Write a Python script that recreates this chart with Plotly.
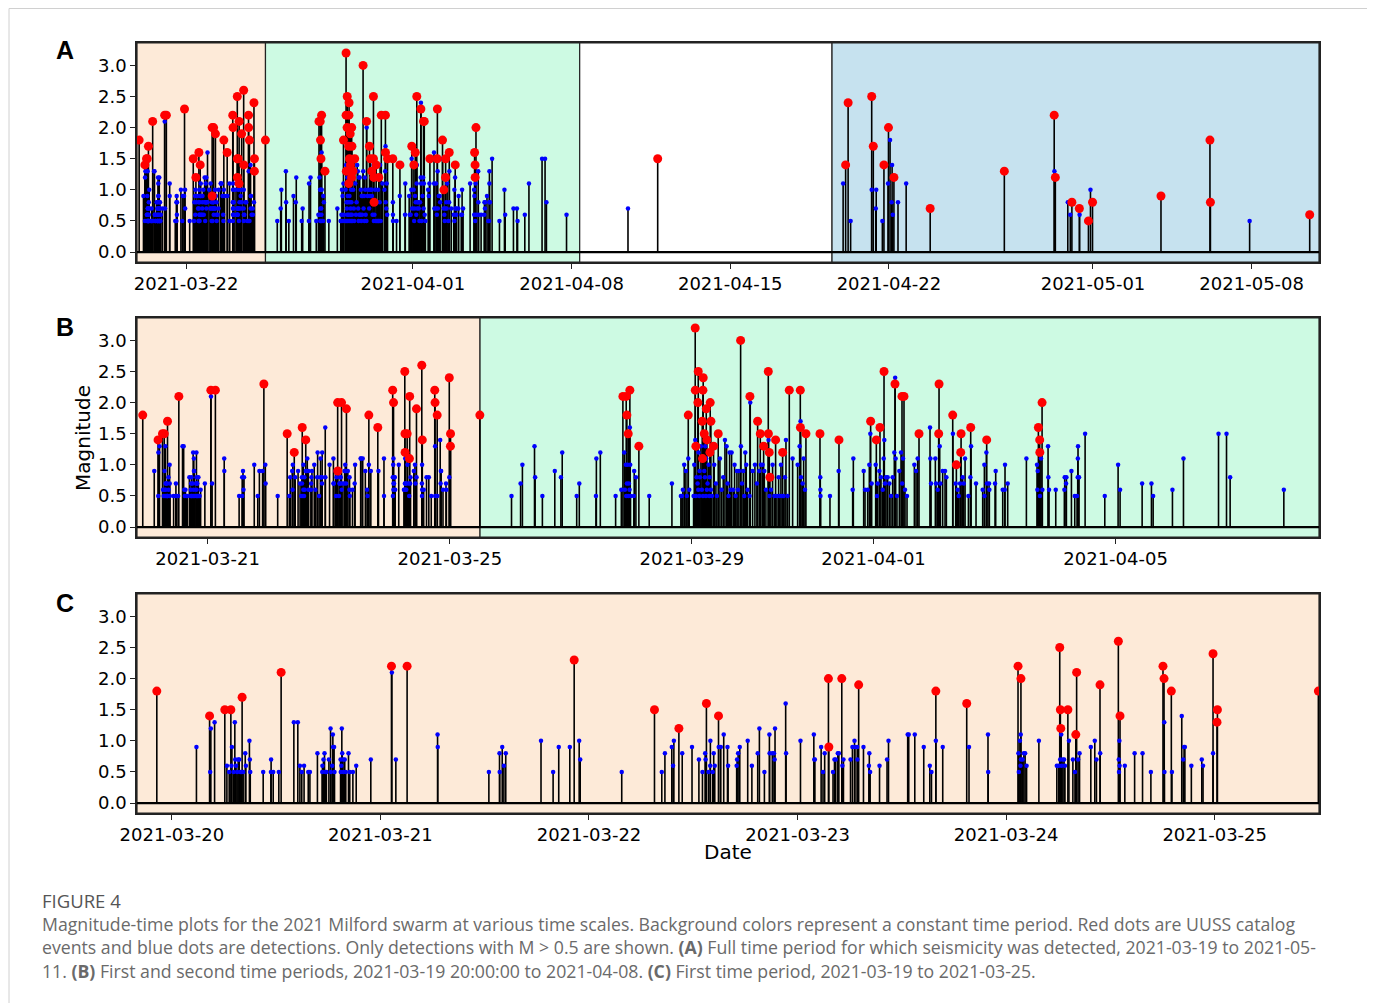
import plotly.graph_objects as go
import pandas as pd

# ---------------- DATA ----------------
# times are days after 2021-03-19 00:00
BASE = "2021-03-19"
period_bounds = [0.833, 6.5, 20.36, 31.49, 52.97]
period_colors = ["#FDEAD8", "#CDFAE3", "#FFFFFF", "#C6E2EF"]

# Period 1 - UUSS catalog events (red)
p1_cat_day = [0.928, 1.181, 1.254, 1.283, 1.337, 1.524, 2.053, 2.128, 2.929, 3.314, 3.431, 3.563,
              3.621, 4.148, 4.150, 4.212, 4.293, 4.663, 4.811, 5.057, 5.071, 5.257, 5.260, 5.262,
              5.296, 5.334, 5.338, 5.450, 5.538, 5.546, 5.752, 5.757, 5.792, 5.992, 6.011, 6.013, 6.497]
p1_cat_mag = [1.8, 1.4, 1.5, 1.5, 1.7, 2.1, 2.2, 2.2, 2.3, 1.5, 1.2, 1.6,
              1.4, 2.0, 0.9, 2.0, 1.9, 1.8, 1.6, 2.2, 2.0, 2.5, 1.5, 1.2,
              1.5, 1.1, 2.1, 1.9, 2.6, 1.4, 2.2, 2.0, 1.8, 2.4, 1.3, 1.5, 1.8]

# Period 1 - detections (blue)
p1_det_day = [1.118, 1.184, 1.187, 1.205, 1.264, 1.275, 1.286, 1.288, 1.296, 1.302, 1.304, 1.308,
              1.313, 1.318, 1.323, 1.328, 1.334, 1.342, 1.352, 1.355, 1.372, 1.374, 1.376, 1.438,
              1.475, 1.476, 1.486, 1.513, 1.585, 1.604, 1.614, 1.623, 1.634, 1.654, 1.662, 1.698,
              1.721, 1.722, 1.727, 1.732, 1.737, 1.741, 1.753, 1.761, 1.762, 1.769, 1.772, 1.773,
              1.778, 1.780, 1.809, 1.810, 1.813, 1.815, 1.817, 1.821, 1.823, 1.829, 1.834, 1.847,
              1.853, 1.868, 1.884, 1.954, 2.055, 2.074, 2.274, 2.275, 2.520, 2.571, 2.572, 2.584,
              2.592, 2.601, 2.770, 2.828, 2.855, 2.908, 2.953, 2.958, 3.157, 3.349, 3.364, 3.397,
              3.403, 3.407, 3.447, 3.494, 3.527, 3.544, 3.557, 3.559, 3.573, 3.581, 3.582, 3.593,
              3.598, 3.603, 3.622, 3.632, 3.646, 3.664, 3.667, 3.708, 3.710, 3.715, 3.723, 3.761,
              3.781, 3.809, 3.817, 3.841, 3.865, 3.866, 3.879, 3.887, 3.890, 3.892, 3.943, 3.945,
              4.014, 4.078, 4.080, 4.083, 4.113, 4.122, 4.130, 4.170, 4.177, 4.183, 4.193, 4.198,
              4.215, 4.220, 4.254, 4.263, 4.273, 4.275, 4.286, 4.287, 4.316, 4.342, 4.344, 4.348,
              4.393, 4.429, 4.436, 4.528, 4.533, 4.562, 4.605, 4.634, 4.642, 4.663, 4.696, 4.822,
              4.913, 4.914, 5.059, 5.061, 5.066, 5.069, 5.070, 5.071, 5.079, 5.085, 5.091, 5.098,
              5.157, 5.243, 5.252, 5.259, 5.264, 5.266, 5.272, 5.278, 5.282, 5.301, 5.320, 5.330,
              5.345, 5.352, 5.406, 5.425, 5.433, 5.451, 5.540, 5.541, 5.543, 5.544, 5.569, 5.616,
              5.654, 5.694, 5.758, 5.759, 5.795, 5.842, 5.849, 5.853, 5.857, 5.888, 5.938, 5.944,
              5.992]
p1_det_mag = [0.9, 0.5, 1.2, 1.3, 0.6, 0.5, 0.6, 0.9, 0.5, 1.3, 0.7, 0.6,
              0.5, 0.7, 0.7, 0.5, 0.5, 0.5, 0.8, 0.6, 1.0, 0.7, 0.5, 0.5,
              0.5, 0.7, 0.5, 0.5, 1.3, 1.3, 0.6, 0.5, 0.6, 0.5, 0.5, 0.8,
              0.5, 0.6, 0.7, 0.8, 0.5, 0.5, 0.7, 1.2, 0.5, 0.6, 1.1, 0.9,
              0.9, 0.5, 0.7, 0.5, 0.6, 1.2, 0.8, 0.7, 0.5, 0.7, 0.5, 0.8,
              0.5, 0.5, 0.6, 0.7, 2.1, 0.7, 1.1, 0.9, 0.5, 0.8, 0.5, 0.9,
              0.6, 0.8, 1.0, 0.5, 0.9, 0.9, 1.0, 0.7, 0.5, 0.5, 0.8, 0.9,
              0.6, 1.0, 0.8, 0.9, 0.7, 0.5, 0.8, 0.7, 0.5, 0.6, 1.0, 0.5,
              0.8, 0.6, 0.9, 0.9, 1.1, 0.9, 0.6, 0.6, 0.7, 0.8, 0.9, 1.0,
              0.6, 0.8, 1.2, 0.5, 1.1, 0.8, 0.8, 0.8, 0.7, 1.2, 1.6, 0.8,
              1.0, 1.1, 0.7, 0.7, 0.9, 0.5, 0.8, 0.5, 0.7, 0.7, 0.8, 0.8,
              0.6, 0.7, 0.7, 0.9, 1.0, 0.9, 0.9, 0.7, 0.9, 0.6, 0.8, 0.5,
              0.6, 0.7, 1.0, 1.1, 1.1, 1.1, 0.9, 0.6, 0.5, 1.0, 0.9, 0.9,
              1.1, 0.5, 0.8, 0.5, 1.0, 0.6, 1.1, 0.7, 0.7, 0.8, 0.8, 0.6,
              1.0, 0.6, 0.6, 0.7, 1.1, 0.6, 0.7, 0.7, 0.6, 1.0, 0.7, 0.5,
              0.7, 0.8, 0.9, 1.0, 0.7, 0.8, 0.7, 0.5, 1.0, 0.6, 0.6, 0.8,
              0.8, 0.5, 1.3, 0.5, 0.5, 1.4, 0.7, 0.9, 0.9, 0.6, 0.7, 0.6,
              0.8]

# Period 2 - catalog events
p2_cat_day = [8.860, 8.915, 8.926, 8.948, 8.975, 9.124, 9.940, 10.055, 10.056, 10.066, 10.099, 10.105,
              10.171, 10.176, 10.182, 10.187, 10.204, 10.237, 10.248, 10.298, 10.303, 10.314, 10.358, 10.435,
              10.805, 10.959, 11.086, 11.130, 11.185, 11.262, 11.264, 11.278, 11.289, 11.383, 11.499, 11.609,
              11.791, 11.793, 11.884, 12.116, 12.430, 12.953, 13.047, 13.107, 13.174, 13.355, 13.471, 13.504,
              13.752, 14.077, 14.083, 14.309, 14.369, 14.441, 14.447, 14.606, 14.870, 15.724, 15.746, 15.748,
              15.785]
p2_cat_mag = [2.1, 2.1, 1.8, 1.5, 2.2, 1.3, 1.8, 3.2, 2.2, 1.3, 2.0, 2.5,
              1.7, 1.1, 2.2, 2.4, 1.5, 1.9, 1.4, 1.2, 2.0, 1.7, 1.3, 1.5,
              3.0, 2.1, 1.7, 1.5, 1.3, 2.5, 1.5, 1.2, 0.8, 1.4, 1.2, 2.2,
              2.2, 1.6, 1.5, 1.5, 1.4, 1.7, 1.4, 1.6, 2.5, 2.3, 2.1, 2.1,
              1.5, 1.5, 2.3, 1.8, 1.0, 1.2, 1.5, 1.6, 1.4, 1.6, 1.4, 1.2,
              2.0]

# Period 2 - detections
p2_det_day = [7.02, 7.17, 7.20, 7.40, 7.41, 7.53, 7.735, 7.836, 7.858, 8.097, 8.14, 8.415,
              8.422, 8.487, 8.74, 8.834, 8.882, 8.893, 8.909, 8.915, 8.926, 8.937, 8.948, 8.959,
              8.97, 8.975, 8.981, 8.986, 9.041, 9.047, 9.075, 9.295, 9.67, 9.818, 9.835, 9.851,
              9.873, 9.901, 9.917, 9.94, 9.956, 10.028, 10.039, 10.055, 10.066, 10.077, 10.094, 10.105,
              10.11, 10.121, 10.127, 10.132, 10.149, 10.165, 10.182, 10.204, 10.215, 10.221, 10.232, 10.237,
              10.248, 10.259, 10.276, 10.287, 10.292, 10.314, 10.331, 10.369, 10.397, 10.413, 10.463, 10.491,
              10.518, 10.546, 10.573, 10.59, 10.606, 10.623, 10.639, 10.656, 10.683, 10.705, 10.722, 10.744,
              10.76, 10.777, 10.81, 10.827, 10.849, 10.865, 10.882, 10.898, 10.92, 10.953, 10.964, 11.003,
              11.041, 11.074, 11.113, 11.14, 11.168, 11.196, 11.223, 11.266, 11.281, 11.306, 11.333, 11.361,
              11.405, 11.433, 11.449, 11.471, 11.493, 11.515, 11.537, 11.554, 11.581, 11.664, 11.747, 11.78,
              11.795, 11.802, 11.829, 11.846, 11.868, 12.121, 12.123, 12.125, 12.281, 12.424, 12.656, 12.667,
              12.838, 12.86, 12.904, 12.931, 12.948, 12.97, 13.036, 13.058, 13.069, 13.097, 13.124, 13.152,
              13.168, 13.179, 13.19, 13.207, 13.234, 13.262, 13.289, 13.317, 13.344, 13.358, 13.366, 13.388,
              13.427, 13.455, 13.474, 13.488, 13.521, 13.554, 13.675, 13.703, 13.73, 13.934, 13.94, 13.951,
              14.022, 14.033, 14.061, 14.094, 14.105, 14.143, 14.182, 14.204, 14.312, 14.358, 14.391, 14.408,
              14.43, 14.474, 14.491, 14.513, 14.568, 14.601, 14.612, 14.694, 14.804, 14.832, 14.834, 14.865,
              14.876, 14.909, 14.914, 15.008, 15.019, 15.135, 15.168, 15.173, 15.217, 15.526, 15.702, 15.708,
              15.713, 15.75, 15.768, 15.79, 15.884, 15.889, 15.9, 16.011, 16.154, 16.159, 16.182, 16.187,
              16.27, 16.325, 16.363, 16.374, 16.376, 16.379, 16.396, 16.496, 16.821, 17.041, 17.074, 17.438,
              17.592, 17.62, 17.939, 18.121, 18.7, 18.832, 18.892, 19.779]
p2_det_mag = [0.5, 0.7, 1.0, 1.3, 0.8, 0.5, 0.9, 0.8, 1.2, 0.5, 0.7, 0.5,
              1.1, 1.2, 0.5, 0.6, 1.2, 0.6, 1.0, 0.5, 0.7, 1.0, 0.5, 0.7,
              0.6, 1.6, 1.0, 0.5, 0.5, 0.9, 0.8, 0.5, 0.7, 0.5, 0.5, 0.6,
              1.0, 0.9, 0.5, 1.1, 0.6, 0.5, 1.0, 1.4, 0.5, 0.8, 0.7, 0.6,
              1.2, 0.5, 0.9, 0.8, 1.3, 0.6, 0.5, 0.9, 0.8, 1.3, 0.5, 1.1,
              0.6, 0.7, 1.0, 0.5, 0.8, 0.6, 0.5, 1.0, 0.7, 0.5, 1.1, 0.6,
              0.8, 1.4, 1.3, 0.7, 0.5, 1.2, 0.6, 1.2, 0.6, 1.0, 0.5, 0.9,
              0.6, 0.9, 1.3, 0.7, 0.9, 0.5, 1.2, 1.0, 0.6, 0.5, 2.0, 0.9,
              1.0, 0.7, 0.9, 1.0, 1.0, 0.9, 0.6, 1.4, 0.5, 0.6, 1.0, 0.5,
              0.5, 0.8, 0.5, 1.0, 0.5, 0.5, 0.8, 1.4, 0.5, 1.1, 1.0, 1.3,
              1.7, 0.8, 0.7, 1.1, 0.6, 0.8, 0.6, 0.5, 0.5, 0.9, 0.6, 1.1,
              0.9, 0.6, 0.6, 1.0, 1.5, 0.7, 1.0, 0.5, 0.7, 0.9, 0.8, 0.6,
              1.1, 1.4, 0.7, 0.8, 0.8, 0.7, 0.5, 0.8, 1.2, 2.4, 1.1, 0.5,
              0.9, 1.2, 0.7, 1.1, 0.6, 0.5, 1.0, 0.9, 1.1, 1.6, 1.1, 0.7,
              1.1, 0.7, 0.6, 1.3, 0.7, 0.9, 0.9, 0.8, 1.5, 0.7, 0.6, 0.5,
              0.7, 0.8, 0.7, 1.1, 0.5, 0.8, 1.3, 0.7, 0.6, 1.0, 0.5, 1.2,
              0.7, 0.7, 0.6, 0.7, 0.9, 0.6, 0.6, 1.0, 0.7, 1.1, 1.0, 0.6,
              0.9, 0.5, 1.1, 0.6, 1.3, 0.8, 0.6, 0.6, 0.6, 0.8, 0.7, 0.8,
              0.9, 0.5, 0.5, 0.8, 1.1, 1.3, 0.8, 1.5, 0.5, 1.0, 0.6, 0.7,
              0.7, 0.5, 0.6, 1.1, 1.5, 1.5, 0.8, 0.6]

# Periods 3 and 4 - catalog events
p34_cat_day = [23.80, 32.09, 32.20, 33.24, 33.31, 33.78, 33.98, 34.22, 35.82, 39.09, 41.29, 41.34,
               42.07, 42.40, 42.80, 42.98, 46.00, 48.16, 48.18, 52.56]
p34_cat_mag = [1.5, 1.4, 2.4, 2.5, 1.7, 1.4, 2.0, 1.2, 0.7, 1.3, 2.2, 1.2,
               0.8, 0.7, 0.5, 0.8, 0.9, 1.8, 0.8, 0.6]
# Periods 3 and 4 - detections
p34_det_day = [22.49, 31.98, 32.31, 33.24, 33.42, 33.44, 33.71, 33.96, 34.05, 34.12, 34.14, 34.17,
               34.40, 34.76, 41.30, 41.89, 42.00, 42.41, 42.89, 49.91]
p34_det_mag = [0.7, 1.1, 0.5, 1.0, 0.7, 1.0, 0.5, 1.1, 1.8, 0.8, 1.4, 0.6,
               0.8, 1.1, 1.3, 0.8, 0.6, 0.6, 1.0, 0.5]

panel_letters = ["A", "B", "C"]
panel_xlims = [(0, 4), (0, 2), (0, 1)]  # indices into period_bounds
tick_dates = [
    ["2021-03-22", "2021-04-01", "2021-04-08", "2021-04-15", "2021-04-22", "2021-05-01", "2021-05-08"],
    ["2021-03-21", "2021-03-25", "2021-03-29", "2021-04-01", "2021-04-05"],
    ["2021-03-20", "2021-03-21", "2021-03-22", "2021-03-23", "2021-03-24", "2021-03-25"],
]
y_ticks = [0.0, 0.5, 1.0, 1.5, 2.0, 2.5, 3.0]

caption_title = "FIGURE 4"
caption_lines = [
    "Magnitude-time plots for the 2021 Milford swarm at various time scales. Background colors represent a constant time period. Red dots are UUSS catalog",
    "events and blue dots are detections. Only detections with M &gt; 0.5 are shown. <b>(A)</b> Full time period for which seismicity was detected, 2021-03-19 to 2021-05-",
    "11. <b>(B)</b> First and second time periods, 2021-03-19 20:00:00 to 2021-04-08. <b>(C)</b> First time period, 2021-03-19 to 2021-03-25.",
]

# ---------------- FIGURE ----------------
base = pd.Timestamp(BASE)


def to_dt(days):
    return [base + pd.Timedelta(days=float(d)) for d in days]


cat_day = p1_cat_day + p2_cat_day + p34_cat_day
cat_mag = p1_cat_mag + p2_cat_mag + p34_cat_mag
det_day = p1_det_day + p2_det_day + p34_det_day
det_mag = p1_det_mag + p2_det_mag + p34_det_mag

# page has an 8px body margin: figure is 1367x995 so the page is 1375x1003
OFF = 8
W, H = 1375 - OFF, 1003 - OFF


def px(x):
    return (x - OFF) / W


def py(y):
    return 1 - (y - OFF) / H


x_dom = [px(137), px(1319)]
y_doms = [(py(262), py(43)), (py(537), py(318)), (py(813), py(594))]
FONT = "DejaVu Sans"

fig = go.Figure()
shapes = []
annotations = []

for i in range(3):
    ax = "" if i == 0 else str(i + 1)
    xr, yr = "x" + ax, "y" + ax
    lo = period_bounds[panel_xlims[i][0]]
    hi = period_bounds[panel_xlims[i][1]]

    for p in range(len(period_colors)):
        a, b = period_bounds[p], period_bounds[p + 1]
        if b <= lo or a >= hi:
            continue
        shapes.append(dict(type="rect", xref=xr, yref=yr + " domain",
                           x0=base + pd.Timedelta(days=max(a, lo)), x1=base + pd.Timedelta(days=min(b, hi)),
                           y0=0, y1=1, fillcolor=period_colors[p], layer="below",
                           line=dict(color="#222", width=1.2)))

    sel_det = [(d, m) for d, m in zip(det_day, det_mag) if lo <= d <= hi]
    sel_cat = [(d, m) for d, m in zip(cat_day, cat_mag) if lo <= d <= hi]

    sx, sy = [], []
    for d, m in sel_det + sel_cat:
        t = base + pd.Timedelta(days=d)
        sx += [t, t, None]
        sy += [0, m, None]
    fig.add_trace(go.Scatter(x=sx, y=sy, mode="lines", line=dict(color="black", width=1.6),
                             xaxis=xr, yaxis=yr, hoverinfo="skip"))
    fig.add_trace(go.Scatter(x=to_dt([lo, hi]), y=[0, 0], mode="lines",
                             line=dict(color="black", width=2.2), xaxis=xr, yaxis=yr, hoverinfo="skip"))
    fig.add_trace(go.Scatter(x=to_dt([d for d, m in sel_det]), y=[m for d, m in sel_det], mode="markers",
                             marker=dict(color="#0000FF", size=4.5, line=dict(width=0)),
                             xaxis=xr, yaxis=yr))
    fig.add_trace(go.Scatter(x=to_dt([d for d, m in sel_cat]), y=[m for d, m in sel_cat], mode="markers",
                             marker=dict(color="#FF0000", size=9, line=dict(width=0)),
                             xaxis=xr, yaxis=yr))

    fig.update_layout(**{
        "xaxis" + ax: dict(domain=x_dom, anchor=yr, type="date", automargin=False,
                           range=to_dt([lo, hi]),
                           tickvals=tick_dates[i], ticktext=tick_dates[i],
                           ticks="outside", ticklen=5, tickwidth=1.2, tickcolor="#222",
                           showline=True, mirror=True, linecolor="#222", linewidth=1.5,
                           showgrid=False, zeroline=False,
                           tickfont=dict(family=FONT, size=18, color="black")),
        "yaxis" + ax: dict(domain=list(y_doms[i]), anchor=xr, range=[-0.16, 3.36], automargin=False,
                           tickvals=y_ticks, ticktext=["%.1f" % v for v in y_ticks],
                           ticks="outside", ticklen=5, tickwidth=1.2, tickcolor="#222",
                           showline=True, mirror=True, linecolor="#222", linewidth=1.5,
                           showgrid=False, zeroline=False,
                           tickfont=dict(family=FONT, size=18, color="black")),
    })

    annotations.append(dict(xref="paper", yref="paper", x=px(65), y=py([50, 327, 603][i]),
                            text="<b>%s</b>" % panel_letters[i], showarrow=False,
                            font=dict(family="Liberation Sans", size=25, color="black"),
                            xanchor="center", yanchor="middle"))

annotations.append(dict(xref="paper", yref="paper", x=px(83), y=py(438), text="Magnitude",
                        textangle=-90, showarrow=False, font=dict(family=FONT, size=20, color="black"),
                        xanchor="center", yanchor="middle"))
annotations.append(dict(xref="paper", yref="paper", x=px(728), y=py(852), text="Date",
                        showarrow=False, font=dict(family=FONT, size=20, color="black"),
                        xanchor="center", yanchor="middle"))

annotations.append(dict(xref="paper", yref="paper", x=px(40), y=py(900), text=caption_title,
                        showarrow=False, font=dict(family="Open Sans", size=18.5, color="#555555"),
                        xanchor="left", yanchor="middle"))
for k, line in enumerate(caption_lines):
    annotations.append(dict(xref="paper", yref="paper", x=px(40), y=py(923.5 + 23.5 * k), text=line,
                            showarrow=False, font=dict(family="Open Sans", size=17.7, color="#6a6a6a"),
                            xanchor="left", yanchor="middle"))

shapes.append(dict(type="rect", xref="paper", yref="paper", x0=px(9), x1=px(1368), y0=-0.02, y1=py(8.5),
                   line=dict(color="#d0d0d0", width=1), fillcolor="rgba(0,0,0,0)", layer="below"))

fig.update_layout(width=W, height=H, margin=dict(l=0, r=0, t=0, b=0, pad=0),
                  paper_bgcolor="white", plot_bgcolor="white", showlegend=False,
                  shapes=shapes, annotations=annotations)

fig.write_html("out.html")
